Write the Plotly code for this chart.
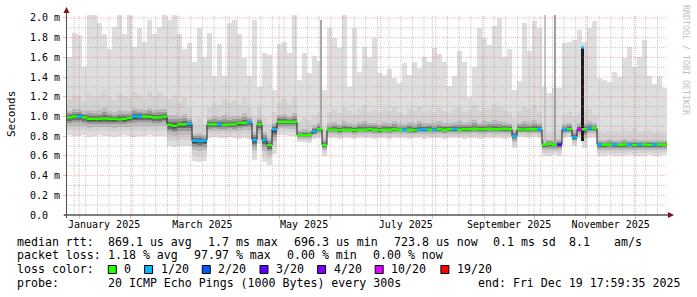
import pandas as pd
import plotly.graph_objects as go

# ---------------- data ----------------
START = pd.Timestamp("2024-12-24 17:59:35")
END = pd.Timestamp("2025-12-19 17:59:35")
STEP = pd.Timedelta(days=3)

# top of the lightest smoke (max ping), ms
max_ms = [1.60, 1.85, 1.83, 1.50, 2.05, 2.05, 1.95, 1.84, 1.69, 1.91,
          2.05, 1.84, 2.05, 1.71, 1.90, 1.76, 1.98, 1.84, 1.91, 2.05,
          1.98, 2.05, 1.84, 1.68, 1.75, 1.55, 1.90, 1.60, 1.85, 1.41,
          1.74, 1.41, 1.95, 1.98, 1.84, 1.59, 1.41, 1.98, 1.30, 1.64,
          1.62, 1.27, 1.74, 1.76, 1.64, 2.05, 1.37, 1.64, 1.44, 1.61,
          1.56, 1.27, 1.90, 1.80, 1.70, 2.05, 1.30, 1.90, 1.45, 1.71,
          1.60, 1.80, 1.44, 1.42, 1.48, 1.39, 1.34, 1.54, 1.42, 1.55,
          1.49, 1.60, 1.55, 1.70, 1.63, 1.55, 1.31, 1.41, 1.66, 1.55,
          1.20, 1.50, 1.90, 1.80, 1.73, 1.92, 2.00, 1.60, 1.68, 1.27,
          1.36, 1.95, 1.66, 1.97, 1.90, 1.30, 1.24, 1.29, 1.29, 1.75,
          1.76, 1.78, 1.88, 1.76, 1.90, 1.97, 1.39, 1.37, 1.35, 1.45,
          1.40, 1.59, 1.71, 1.50, 1.60, 1.78, 1.41, 1.33, 1.41, 1.29]

# top of the denser smoke body, ms
body_ms = [1.18, 1.22, 1.20, 1.16, 1.24, 1.19, 1.22, 1.27, 1.20, 1.17,
           1.23, 1.21, 1.19, 1.25, 1.22, 1.18, 1.26, 1.21, 1.24, 1.20,
           1.18, 1.22, 1.15, 1.20, 1.10, 0.95, 0.98, 0.92, 1.10, 1.15,
           1.12, 1.18, 1.14, 1.16, 1.12, 1.20, 1.10, 1.00, 1.10, 0.98,
           0.92, 1.05, 1.15, 1.18, 1.12, 1.20, 0.95, 0.98, 0.96, 1.02,
           1.05, 0.90, 1.05, 1.08, 1.04, 1.10, 1.06, 1.03, 1.08, 1.12,
           1.05, 1.07, 1.04, 1.09, 1.06, 1.10, 1.05, 1.03, 1.08, 1.06,
           1.11, 1.04, 1.07, 1.05, 1.09, 1.06, 1.04, 1.08, 1.10, 1.05,
           1.07, 1.12, 1.06, 1.09, 1.08, 1.13, 1.10, 1.07, 1.05, 0.98,
           1.06, 1.10, 1.08, 1.12, 1.05, 0.86, 0.84, 0.85, 0.86, 1.02,
           1.05, 1.00, 1.04, 1.06, 1.08, 1.02, 0.85, 0.84, 0.86, 0.85,
           0.84, 0.86, 0.85, 0.87, 0.84, 0.85, 0.86, 0.84, 0.85, 0.83]

# bottom of the smoke (min ping), ms
low_ms = [0.81, 0.80, 0.80, 0.81, 0.79, 0.80, 0.81, 0.80, 0.80, 0.79,
          0.80, 0.81, 0.80, 0.79, 0.80, 0.80, 0.81, 0.80, 0.80, 0.80,
          0.70, 0.69, 0.70, 0.70, 0.70, 0.55, 0.54, 0.55, 0.78, 0.79,
          0.78, 0.78, 0.79, 0.78, 0.77, 0.78, 0.77, 0.56, 0.72, 0.54,
          0.51, 0.62, 0.81, 0.81, 0.80, 0.80, 0.74, 0.74, 0.73, 0.77,
          0.78, 0.60, 0.78, 0.78, 0.77, 0.78, 0.78, 0.77, 0.78, 0.78,
          0.78, 0.77, 0.78, 0.78, 0.77, 0.78, 0.78, 0.78, 0.77, 0.78,
          0.78, 0.77, 0.78, 0.78, 0.78, 0.77, 0.78, 0.78, 0.78, 0.77,
          0.78, 0.78, 0.77, 0.78, 0.78, 0.78, 0.78, 0.77, 0.78, 0.68,
          0.79, 0.79, 0.78, 0.79, 0.78, 0.60, 0.60, 0.61, 0.60, 0.78,
          0.79, 0.70, 0.78, 0.68, 0.78, 0.78, 0.60, 0.60, 0.61, 0.60,
          0.60, 0.60, 0.61, 0.60, 0.60, 0.60, 0.61, 0.60, 0.60, 0.61]

# median rtt, ms
median_ms = [0.99, 1.00, 1.00, 0.99, 0.975, 0.975, 0.975, 0.98, 0.975, 0.975,
             0.97, 0.975, 0.985, 1.00, 1.00, 1.00, 0.995, 0.99, 0.99, 1.00,
             0.915, 0.905, 0.92, 0.92, 0.925, 0.755, 0.75, 0.755, 0.92, 0.92,
             0.92, 0.915, 0.92, 0.92, 0.935, 0.935, 0.94, 0.76, 0.92, 0.76,
             0.71, 0.87, 0.945, 0.945, 0.945, 0.945, 0.81, 0.81, 0.815, 0.85,
             0.87, 0.71, 0.865, 0.865, 0.86, 0.865, 0.865, 0.86, 0.865, 0.865,
             0.87, 0.865, 0.86, 0.865, 0.865, 0.87, 0.865, 0.865, 0.865, 0.86,
             0.865, 0.87, 0.865, 0.865, 0.87, 0.865, 0.87, 0.87, 0.865, 0.87,
             0.87, 0.875, 0.87, 0.87, 0.875, 0.87, 0.87, 0.875, 0.87, 0.80,
             0.87, 0.868, 0.87, 0.87, 0.87, 0.715, 0.72, 0.715, 0.715, 0.87,
             0.87, 0.79, 0.87, 0.87, 0.88, 0.88, 0.715, 0.71, 0.715, 0.715,
             0.71, 0.715, 0.715, 0.71, 0.715, 0.715, 0.71, 0.715, 0.715, 0.715]

# packet loss class per bucket (index into loss_labels)
loss_idx = [0, 0, 1, 0, 0, 0, 0, 0, 0, 0,
            0, 0, 0, 1, 1, 0, 0, 0, 0, 0,
            0, 0, 0, 0, 1, 1, 1, 1, 0, 0,
            1, 0, 0, 0, 0, 0, 1, 1, 0, 1,
            0, 1, 0, 0, 0, 0, 0, 0, 0, 1,
            0, 0, 0, 0, 0, 0, 0, 0, 0, 0,
            0, 0, 0, 0, 0, 0, 0, 1, 0, 0,
            1, 1, 0, 1, 0, 0, 0, 1, 0, 0,
            0, 0, 0, 0, 0, 0, 0, 0, 0, 1,
            0, 0, 0, 0, 1, 0, 0, 0, 3, 1,
            0, 1, 5, 0, 1, 0, 1, 0, 0, 1,
            0, 0, 1, 0, 1, 0, 0, 1, 0, 0]

loss_labels = ["0", "1/20", "2/20", "3/20", "4/20", "10/20", "19/20"]
loss_colors = ["#26ff00", "#00b8ff", "#0059ff", "#5e00ff", "#7e00ff", "#dd00ff", "#ff0000"]

# narrow smoke columns
spike_time = ["2025-05-26 01:00", "2025-10-07 20:00", "2025-10-13 20:00", "2025-10-30 01:00"]
spike_low = [0.88, 0.72, 0.72, 0.75]
spike_high = [1.98, 2.05, 2.05, 1.70]
spike_loss = [None, None, None, 1]

ytick_vals = [0.0, 0.2, 0.4, 0.6, 0.8, 1.0, 1.2, 1.4, 1.6, 1.8, 2.0]
ytick_text = ["0.0\u00a0\u00a0", "0.2 m", "0.4 m", "0.6 m", "0.8 m", "1.0 m",
              "1.2 m", "1.4 m", "1.6 m", "1.8 m", "2.0 m"]
xlabel_months = ["2025-01-01", "2025-03-01", "2025-05-01", "2025-07-01", "2025-09-01", "2025-11-01"]
xlabel_text = ["January 2025", "March 2025", "May 2025", "July 2025", "September 2025", "November 2025"]

stats_lines = [
    [("median rtt:", 16), ("869.1 us avg", 107.3), ("1.7 ms max", 207.3), ("696.3 us min", 292.7),
     ("723.8 us now", 392.6), ("0.1 ms sd", 492.3), ("8.1", 567.7), ("am/s", 613.4)],
    [("packet loss:", 16), ("1.18 % avg", 107.3), ("97.97 % max", 193.3), ("0.00 % min", 286.0),
     ("0.00 % now", 371.7)],
    [("probe:", 16), ("20 ICMP Echo Pings (1000 Bytes) every 300s", 107.3),
     ("end: Fri Dec 19 17:59:35 2025", 476.8)],
]

# ---------------- style ----------------
MONO = "DejaVu Sans Mono"
smoke_colors = ["#dedede", "#d3d3d3", "#bcbcbc", "#999999", "#6c6c6c", "#404040"]
smoke_dn = [None, 0.72, 0.48, 0.3, 0.18, 0.1]
smoke_up = [None, None, 0.36, 0.22, 0.12, 0.05]
spike_colors = ["#a8a8a8", "#c4c4c4", "#9e9e9e", "#1c1c1c"]
RED_GRID = "rgba(235,90,90,0.45)"
GRAY_GRID = "rgba(150,150,150,0.5)"
YTOP = 2.03

L, R, T, B = 67, 30, 15, 82
W, H = 697, 297
PW, PH = W - L - R, H - T - B


def px_x(px):
    return (px - L) / PW


def px_y(py):
    return (H - B - py) / PH


n = len(median_ms)
t_start = [START + STEP * i for i in range(n)]
t_mid = [t + STEP / 2 for t in t_start]
bar_w = STEP.total_seconds() * 1000

fig = go.Figure()

# smoke layers
for k, col in enumerate(smoke_colors):
    lo, hi = [], []
    for i in range(n):
        m, lw, bd, mx = median_ms[i], low_ms[i], body_ms[i], max_ms[i]
        if k == 0:
            a, b = lw, mx
        elif k == 1:
            a, b = m - (m - lw) * smoke_dn[k], bd
        else:
            a, b = m - (m - lw) * smoke_dn[k], m + (bd - m) * smoke_up[k]
        lo.append(a)
        hi.append(b - a)
    fig.add_trace(go.Bar(x=t_mid, y=hi, base=lo, width=bar_w,
                         marker=dict(color=col, line=dict(width=0)),
                         showlegend=False, hoverinfo="skip"))

# narrow columns
day_ms = 86400000
fig.add_trace(go.Bar(x=pd.to_datetime(spike_time),
                     y=[h - l for h, l in zip(spike_high, spike_low)],
                     base=spike_low, width=[0.9 * day_ms, 0.9 * day_ms, 1.2 * day_ms, 1.8 * day_ms],
                     marker=dict(color=spike_colors, line=dict(width=0)),
                     showlegend=False, hoverinfo="skip"))

# grid (drawn over the smoke, like rrdtool)
month_starts = pd.date_range("2025-01-01", "2025-12-01", freq="MS")
week_starts = pd.date_range("2024-12-29", END, freq="7D")


def vlines(times):
    xs, ys = [], []
    for t in times:
        xs += [t, t, None]
        ys += [0, YTOP, None]
    return xs, ys


def hlines(vals):
    xs, ys = [], []
    for v in vals:
        xs += [START, END, None]
        ys += [v, v, None]
    return xs, ys


minor_y = [0.1, 0.3, 0.5, 0.7, 0.9, 1.1, 1.3, 1.5, 1.7, 1.9]
for (xs, ys), col in [(vlines([w for w in week_starts if w not in set(month_starts)]), GRAY_GRID),
                      (hlines(minor_y), GRAY_GRID),
                      (vlines(month_starts), RED_GRID),
                      (hlines(ytick_vals[1:]), RED_GRID)]:
    fig.add_trace(go.Scatter(x=xs, y=ys, mode="lines",
                             line=dict(color=col, width=1, dash="1px,1px"),
                             showlegend=False, hoverinfo="skip"))

# median: thin dark step line
fig.add_trace(go.Scatter(x=t_start + [END], y=median_ms + [median_ms[-1]], mode="lines",
                         line=dict(color="#202020", width=1, shape="hv"),
                         showlegend=False, hoverinfo="skip"))
# median coloured by loss
for c, col in enumerate(loss_colors):
    xs, ys = [], []
    for i in range(n):
        if loss_idx[i] == c:
            xs += [t_start[i], t_start[i] + STEP, None]
            ys += [median_ms[i], median_ms[i], None]
    if xs:
        fig.add_trace(go.Scatter(x=xs, y=ys, mode="lines",
                                 line=dict(color=col, width=2.6),
                                 showlegend=False, hoverinfo="skip"))
# cap of the tall spike
for t, h, lc in zip(spike_time, spike_high, spike_loss):
    if lc is not None:
        tt = pd.Timestamp(t)
        fig.add_trace(go.Scatter(x=[tt - pd.Timedelta(hours=20), tt + pd.Timedelta(hours=20)], y=[h, h],
                                 mode="lines", line=dict(color=loss_colors[lc], width=2.6),
                                 showlegend=False, hoverinfo="skip"))

# ---------------- layout ----------------
annotations = []
for row, segs in enumerate(stats_lines):
    py = [241.7, 255.3, 282.7][row]
    for txt, px in segs:
        annotations.append(dict(text=txt, x=px_x(px - 1), y=px_y(py), xref="paper", yref="paper",
                                xanchor="left", yanchor="middle", showarrow=False,
                                font=dict(family=MONO, size=11.6, color="#000000")))
# loss colour legend
annotations.append(dict(text="loss color:", x=px_x(15), y=px_y(269), xref="paper", yref="paper",
                        xanchor="left", yanchor="middle", showarrow=False,
                        font=dict(family=MONO, size=11.6, color="#000000")))
legend_text_x = [123.3, 159.6, 217.3, 275.0, 332.6, 390.2, 455.9]
shapes = []
for lab, col, tx in zip(loss_labels, loss_colors, legend_text_x):
    annotations.append(dict(text=lab, x=px_x(tx - 1), y=px_y(269), xref="paper", yref="paper",
                            xanchor="left", yanchor="middle", showarrow=False,
                            font=dict(family=MONO, size=11.6, color="#000000")))
    shapes.append(dict(type="rect", xref="paper", yref="paper",
                       x0=px_x(tx - 15), x1=px_x(tx - 7), y0=px_y(273.5), y1=px_y(265.5),
                       fillcolor=col, line=dict(color="#000000", width=1)))

# axis title and watermark
annotations.append(dict(text="Seconds", x=px_x(11), y=px_y(114), xref="paper", yref="paper",
                        xanchor="center", yanchor="middle", textangle=-90, showarrow=False,
                        font=dict(family=MONO, size=11, color="#000000")))
annotations.append(dict(text="RRDTOOL / TOBI OETIKER", x=px_x(686), y=px_y(60), xref="paper", yref="paper",
                        xanchor="center", yanchor="middle", textangle=90, showarrow=False,
                        font=dict(family=MONO, size=8.3, color="#c0c0c0")))

# axes lines and arrows
shapes += [
    dict(type="line", xref="paper", yref="paper", x0=px_x(64), x1=px_x(669), y0=px_y(215), y1=px_y(215),
         line=dict(color="#000000", width=1.2)),
    dict(type="line", xref="paper", yref="paper", x0=px_x(66.5), x1=px_x(66.5), y0=px_y(218), y1=px_y(11),
         line=dict(color="#505050", width=1)),
    dict(type="path", xref="paper", yref="paper",
         path=f"M {px_x(668)} {px_y(212)} L {px_x(674)} {px_y(215)} L {px_x(668)} {px_y(218)} Z",
         fillcolor="#7a1414", line=dict(color="#7a1414", width=0)),
    dict(type="path", xref="paper", yref="paper",
         path=f"M {px_x(63.5)} {px_y(13)} L {px_x(66.5)} {px_y(7)} L {px_x(69.5)} {px_y(13)} Z",
         fillcolor="#7a1414", line=dict(color="#7a1414", width=0)),
]

fig.update_layout(
    width=W, height=H, margin=dict(l=L, r=R, t=T, b=B, pad=0),
    paper_bgcolor="#ffffff", plot_bgcolor="#ffffff",
    barmode="overlay", bargap=0, showlegend=False,
    annotations=annotations, shapes=shapes,
    xaxis=dict(type="date", range=[START, END], showgrid=False, zeroline=False, showline=False,
               tickmode="array", tickvals=[pd.Timestamp(m) + pd.Timedelta(days=15) for m in xlabel_months],
               ticktext=xlabel_text, ticks="", ticklabelstandoff=2,
               tickfont=dict(family=MONO, size=10, color="#000000"),
               minor=dict(tickmode="array", tickvals=list(month_starts), ticks="outside", ticklen=3,
                          tickcolor=RED_GRID, showgrid=False)),
    yaxis=dict(range=[0, YTOP], showgrid=False, zeroline=False, showline=False,
               tickmode="array", tickvals=ytick_vals, ticktext=ytick_text,
               ticks="outside", ticklen=3, tickcolor=RED_GRID, ticklabelstandoff=1,
               tickfont=dict(family=MONO, size=10, color="#000000")),
)

fig.write_html("out.html")
